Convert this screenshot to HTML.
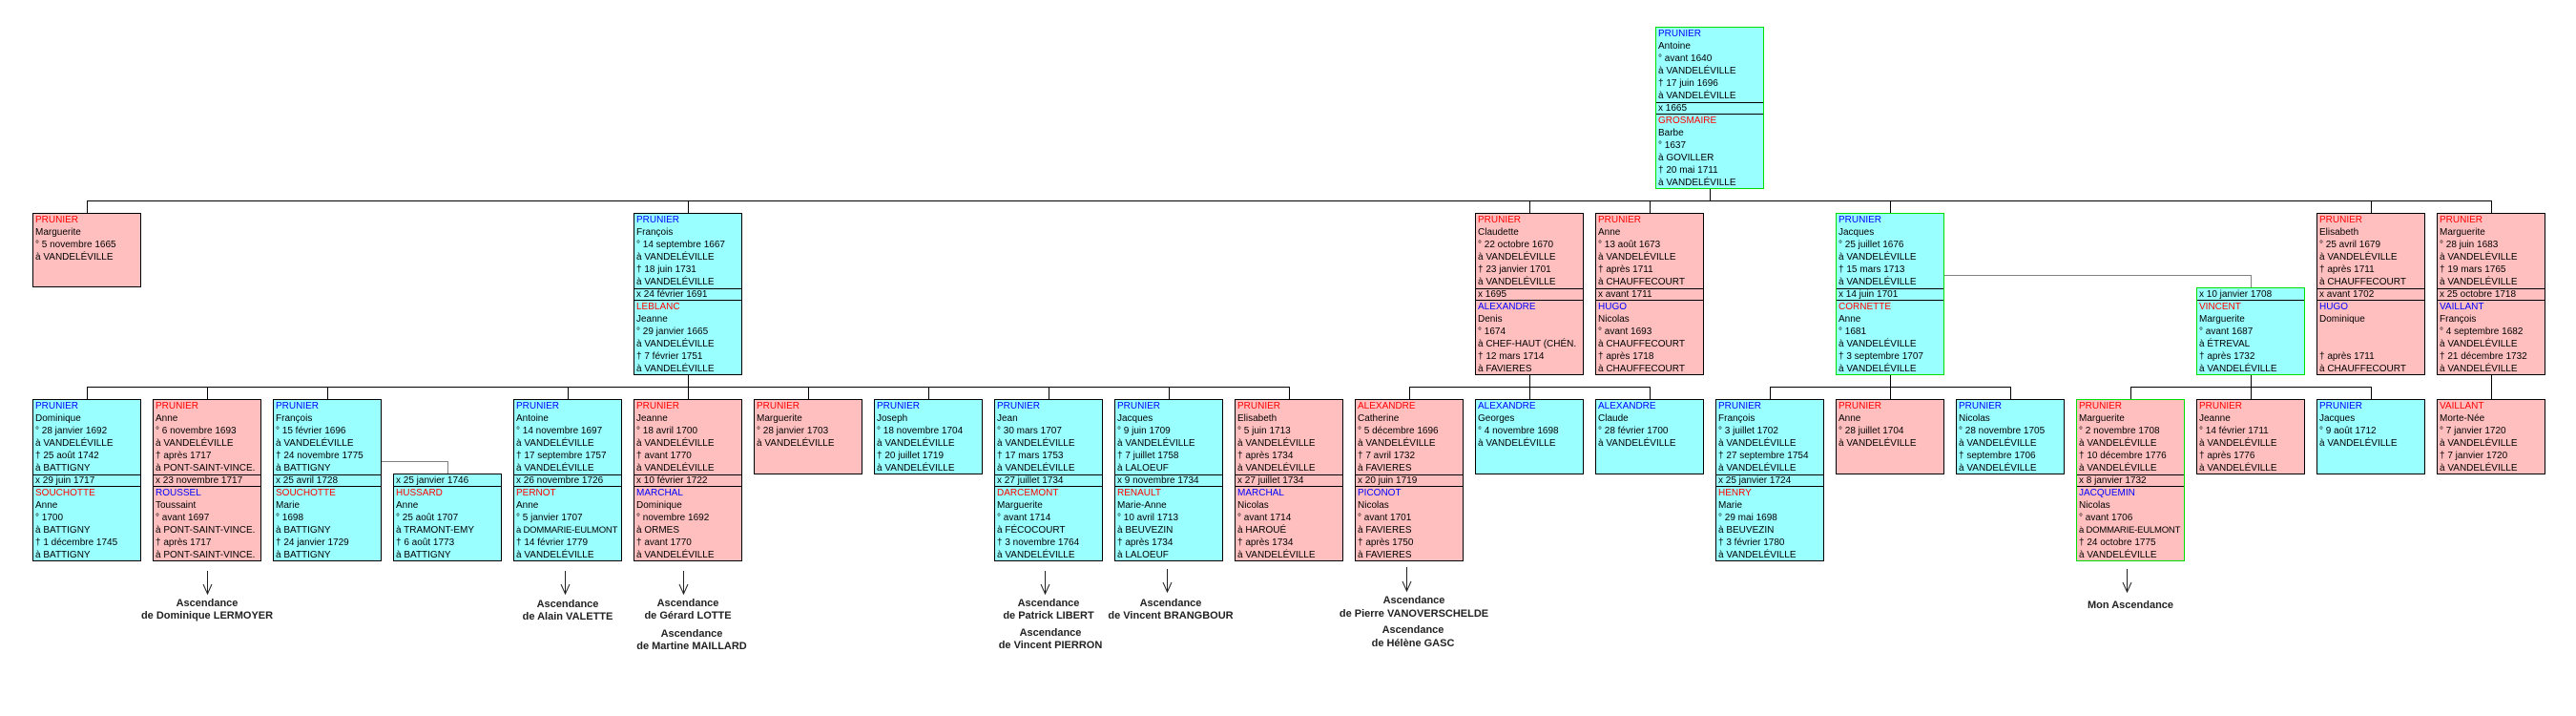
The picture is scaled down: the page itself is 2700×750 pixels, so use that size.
<!DOCTYPE html>
<html><head><meta charset="utf-8">
<style>
html,body{margin:0;padding:0;background:#fff;width:2700px;height:750px;overflow:hidden;position:relative}
.b{position:absolute;width:114px;box-sizing:border-box;border:1px solid #000;font:10px "Liberation Sans",sans-serif;line-height:13px;overflow:hidden;white-space:nowrap;color:#000}
.b div{height:13px;padding-left:2px}
.b div.m{height:11px;line-height:12px;border-top:1px solid #000;border-bottom:1px solid #000}
.b div.s{font-size:9.5px;letter-spacing:-0.2px}
.c{background:#99ffff}.p{background:#ffbfbf}.g{border-color:#00dd00}
.r{color:#f00}.u{color:#00f}
.l{position:absolute;width:300px;text-align:center;font:bold 11px "Liberation Sans",sans-serif;line-height:13px;color:#222}
svg{position:absolute;left:0;top:0}
</style></head><body>
<svg width="2700" height="750" shape-rendering="crispEdges">
<g stroke="#000" stroke-width="1" fill="none">
<path d="M1792.5 197V210.5M91 210.5H2612M91.5 210V223M721.5 210V223M1603.5 210V223M1729.5 210V223M1981.5 210V223M2485.5 210V223M2611.5 210V223"/>
<path d="M721.5 392V405.5M91 405.5H1352M91.5 405V418M217.5 405V418M343.5 405V418M595.5 405V418M721.5 405V418M847.5 405V418M973.5 405V418M1099.5 405V418M1225.5 405V418M1351.5 405V418"/>
<path d="M1603.5 392V405.5M1477 405.5H1730M1477.5 405V418M1603.5 405V418M1729.5 405V418"/>
<path d="M1981.5 392V405.5M1855 405.5H2108M1855.5 405V418M1981.5 405V418M2107.5 405V418"/>
<path d="M2359.5 392V405.5M2233 405.5H2486M2233.5 405V418M2359.5 405V418M2485.5 405V418"/>
<path d="M2611.5 392V418"/>
</g>
<g stroke="#808080" fill="none">
<path d="M2038 288.5H2359.5V301M399 483.5H469.5V496"/>
</g>
<g stroke="#222" fill="none" shape-rendering="auto">
<path d="M217.5 598V622M213 612L217.5 622L222 612"/>
<path d="M592.5 598V622M588 612L592.5 622L597 612"/>
<path d="M716.5 598V622M712 612L716.5 622L721 612"/>
<path d="M1095.5 598V622M1091 612L1095.5 622L1100 612"/>
<path d="M1223.5 596V620M1219 610L1223.5 620L1228 610"/>
<path d="M1474.5 594V619M1470 609L1474.5 619L1479 609"/>
<path d="M2229.5 596V620M2225 610L2229.5 620L2234 610"/>
</g>
</svg>

<!-- Root -->
<div class="b c g" style="left:1735px;top:28px;height:170px"><div class="u">PRUNIER</div><div>Antoine</div><div>° avant 1640</div><div>à VANDELÉVILLE</div><div>† 17 juin 1696</div><div>à VANDELÉVILLE</div><div class="m">x 1665</div><div class="r">GROSMAIRE</div><div>Barbe</div><div>° 1637</div><div>à GOVILLER</div><div>† 20 mai 1711</div><div>à VANDELÉVILLE</div></div>

<!-- Row 2 -->
<div class="b p" style="left:34px;top:223px;height:78px"><div class="r">PRUNIER</div><div>Marguerite</div><div>° 5 novembre 1665</div><div>à VANDELÉVILLE</div></div>
<div class="b c" style="left:664px;top:223px;height:170px"><div class="u">PRUNIER</div><div>François</div><div>° 14 septembre 1667</div><div>à VANDELÉVILLE</div><div>† 18 juin 1731</div><div>à VANDELÉVILLE</div><div class="m">x 24 février 1691</div><div class="r">LEBLANC</div><div>Jeanne</div><div>° 29 janvier 1665</div><div>à VANDELÉVILLE</div><div>† 7 février 1751</div><div>à VANDELÉVILLE</div></div>
<div class="b p" style="left:1546px;top:223px;height:170px"><div class="r">PRUNIER</div><div>Claudette</div><div>° 22 octobre 1670</div><div>à VANDELÉVILLE</div><div>† 23 janvier 1701</div><div>à VANDELÉVILLE</div><div class="m">x 1695</div><div class="u">ALEXANDRE</div><div>Denis</div><div>° 1674</div><div>à CHEF-HAUT (CHÉN.</div><div>† 12 mars 1714</div><div>à FAVIERES</div></div>
<div class="b p" style="left:1672px;top:223px;height:170px"><div class="r">PRUNIER</div><div>Anne</div><div>° 13 août 1673</div><div>à VANDELÉVILLE</div><div>† après 1711</div><div>à CHAUFFECOURT</div><div class="m">x avant 1711</div><div class="u">HUGO</div><div>Nicolas</div><div>° avant 1693</div><div>à CHAUFFECOURT</div><div>† après 1718</div><div>à CHAUFFECOURT</div></div>
<div class="b c g" style="left:1924px;top:223px;height:170px"><div class="u">PRUNIER</div><div>Jacques</div><div>° 25 juillet 1676</div><div>à VANDELÉVILLE</div><div>† 15 mars 1713</div><div>à VANDELÉVILLE</div><div class="m">x 14 juin 1701</div><div class="r">CORNETTE</div><div>Anne</div><div>° 1681</div><div>à VANDELÉVILLE</div><div>† 3 septembre 1707</div><div>à VANDELÉVILLE</div></div>
<div class="b c g" style="left:2302px;top:301px;height:92px"><div style="height:12px;border-bottom:1px solid #000">x 10 janvier 1708</div><div class="r">VINCENT</div><div>Marguerite</div><div>° avant 1687</div><div>à ÉTREVAL</div><div>† après 1732</div><div>à VANDELÉVILLE</div></div>
<div class="b p" style="left:2428px;top:223px;height:170px"><div class="r">PRUNIER</div><div>Elisabeth</div><div>° 25 avril 1679</div><div>à VANDELÉVILLE</div><div>† après 1711</div><div>à CHAUFFECOURT</div><div class="m">x avant 1702</div><div class="u">HUGO</div><div>Dominique</div><div></div><div></div><div>† après 1711</div><div>à CHAUFFECOURT</div></div>
<div class="b p" style="left:2554px;top:223px;height:170px"><div class="r">PRUNIER</div><div>Marguerite</div><div>° 28 juin 1683</div><div>à VANDELÉVILLE</div><div>† 19 mars 1765</div><div>à VANDELÉVILLE</div><div class="m">x 25 octobre 1718</div><div class="u">VAILLANT</div><div>François</div><div>° 4 septembre 1682</div><div>à VANDELÉVILLE</div><div>† 21 décembre 1732</div><div>à VANDELÉVILLE</div></div>

<!-- Row 3 -->
<div class="b c" style="left:34px;top:418px;height:170px"><div class="u">PRUNIER</div><div>Dominique</div><div>° 28 janvier 1692</div><div>à VANDELÉVILLE</div><div>† 25 août 1742</div><div>à BATTIGNY</div><div class="m">x 29 juin 1717</div><div class="r">SOUCHOTTE</div><div>Anne</div><div>° 1700</div><div>à BATTIGNY</div><div>† 1 décembre 1745</div><div>à BATTIGNY</div></div>
<div class="b p" style="left:160px;top:418px;height:170px"><div class="r">PRUNIER</div><div>Anne</div><div>° 6 novembre 1693</div><div>à VANDELÉVILLE</div><div>† après 1717</div><div>à PONT-SAINT-VINCE.</div><div class="m">x 23 novembre 1717</div><div class="u">ROUSSEL</div><div>Toussaint</div><div>° avant 1697</div><div>à PONT-SAINT-VINCE.</div><div>† après 1717</div><div>à PONT-SAINT-VINCE.</div></div>
<div class="b c" style="left:286px;top:418px;height:170px"><div class="u">PRUNIER</div><div>François</div><div>° 15 février 1696</div><div>à VANDELÉVILLE</div><div>† 24 novembre 1775</div><div>à BATTIGNY</div><div class="m">x 25 avril 1728</div><div class="r">SOUCHOTTE</div><div>Marie</div><div>° 1698</div><div>à BATTIGNY</div><div>† 24 janvier 1729</div><div>à BATTIGNY</div></div>
<div class="b c" style="left:412px;top:496px;height:92px"><div style="height:12px;border-bottom:1px solid #000">x 25 janvier 1746</div><div class="r">HUSSARD</div><div>Anne</div><div>° 25 août 1707</div><div>à TRAMONT-EMY</div><div>† 6 août 1773</div><div>à BATTIGNY</div></div>
<div class="b c" style="left:538px;top:418px;height:170px"><div class="u">PRUNIER</div><div>Antoine</div><div>° 14 novembre 1697</div><div>à VANDELÉVILLE</div><div>† 17 septembre 1757</div><div>à VANDELÉVILLE</div><div class="m">x 26 novembre 1726</div><div class="r">PERNOT</div><div>Anne</div><div>° 5 janvier 1707</div><div class="s">à DOMMARIE-EULMONT</div><div>† 14 février 1779</div><div>à VANDELÉVILLE</div></div>
<div class="b p" style="left:664px;top:418px;height:170px"><div class="r">PRUNIER</div><div>Jeanne</div><div>° 18 avril 1700</div><div>à VANDELÉVILLE</div><div>† avant 1770</div><div>à VANDELÉVILLE</div><div class="m">x 10 février 1722</div><div class="u">MARCHAL</div><div>Dominique</div><div>° novembre 1692</div><div>à ORMES</div><div>† avant 1770</div><div>à VANDELÉVILLE</div></div>
<div class="b p" style="left:790px;top:418px;height:79px"><div class="r">PRUNIER</div><div>Marguerite</div><div>° 28 janvier 1703</div><div>à VANDELÉVILLE</div></div>
<div class="b c" style="left:916px;top:418px;height:79px"><div class="u">PRUNIER</div><div>Joseph</div><div>° 18 novembre 1704</div><div>à VANDELÉVILLE</div><div>† 20 juillet 1719</div><div>à VANDELÉVILLE</div></div>
<div class="b c" style="left:1042px;top:418px;height:170px"><div class="u">PRUNIER</div><div>Jean</div><div>° 30 mars 1707</div><div>à VANDELÉVILLE</div><div>† 17 mars 1753</div><div>à VANDELÉVILLE</div><div class="m">x 27 juillet 1734</div><div class="r">DARCEMONT</div><div>Marguerite</div><div>° avant 1714</div><div>à FÉCOCOURT</div><div>† 3 novembre 1764</div><div>à VANDELÉVILLE</div></div>
<div class="b c" style="left:1168px;top:418px;height:170px"><div class="u">PRUNIER</div><div>Jacques</div><div>° 9 juin 1709</div><div>à VANDELÉVILLE</div><div>† 7 juillet 1758</div><div>à LALOEUF</div><div class="m">x 9 novembre 1734</div><div class="r">RENAULT</div><div>Marie-Anne</div><div>° 10 avril 1713</div><div>à BEUVEZIN</div><div>† après 1734</div><div>à LALOEUF</div></div>
<div class="b p" style="left:1294px;top:418px;height:170px"><div class="r">PRUNIER</div><div>Elisabeth</div><div>° 5 juin 1713</div><div>à VANDELÉVILLE</div><div>† après 1734</div><div>à VANDELÉVILLE</div><div class="m">x 27 juillet 1734</div><div class="u">MARCHAL</div><div>Nicolas</div><div>° avant 1714</div><div>à HAROUÉ</div><div>† après 1734</div><div>à VANDELÉVILLE</div></div>
<div class="b p" style="left:1420px;top:418px;height:170px"><div class="r">ALEXANDRE</div><div>Catherine</div><div>° 5 décembre 1696</div><div>à VANDELÉVILLE</div><div>† 7 avril 1732</div><div>à FAVIERES</div><div class="m">x 20 juin 1719</div><div class="u">PICONOT</div><div>Nicolas</div><div>° avant 1701</div><div>à FAVIERES</div><div>† après 1750</div><div>à FAVIERES</div></div>
<div class="b c" style="left:1546px;top:418px;height:79px"><div class="u">ALEXANDRE</div><div>Georges</div><div>° 4 novembre 1698</div><div>à VANDELÉVILLE</div></div>
<div class="b c" style="left:1672px;top:418px;height:79px"><div class="u">ALEXANDRE</div><div>Claude</div><div>° 28 février 1700</div><div>à VANDELÉVILLE</div></div>
<div class="b c" style="left:1798px;top:418px;height:170px"><div class="u">PRUNIER</div><div>François</div><div>° 3 juillet 1702</div><div>à VANDELÉVILLE</div><div>† 27 septembre 1754</div><div>à VANDELÉVILLE</div><div class="m">x 25 janvier 1724</div><div class="r">HENRY</div><div>Marie</div><div>° 29 mai 1698</div><div>à BEUVEZIN</div><div>† 3 février 1780</div><div>à VANDELÉVILLE</div></div>
<div class="b p" style="left:1924px;top:418px;height:79px"><div class="r">PRUNIER</div><div>Anne</div><div>° 28 juillet 1704</div><div>à VANDELÉVILLE</div></div>
<div class="b c" style="left:2050px;top:418px;height:79px"><div class="u">PRUNIER</div><div>Nicolas</div><div>° 28 novembre 1705</div><div>à VANDELÉVILLE</div><div>† septembre 1706</div><div>à VANDELÉVILLE</div></div>
<div class="b p g" style="left:2176px;top:418px;height:170px"><div class="r">PRUNIER</div><div>Marguerite</div><div>° 2 novembre 1708</div><div>à VANDELÉVILLE</div><div>† 10 décembre 1776</div><div>à VANDELÉVILLE</div><div class="m">x 8 janvier 1732</div><div class="u">JACQUEMIN</div><div>Nicolas</div><div>° avant 1706</div><div class="s">à DOMMARIE-EULMONT</div><div>† 24 octobre 1775</div><div>à VANDELÉVILLE</div></div>
<div class="b p" style="left:2302px;top:418px;height:79px"><div class="r">PRUNIER</div><div>Jeanne</div><div>° 14 février 1711</div><div>à VANDELÉVILLE</div><div>† après 1776</div><div>à VANDELÉVILLE</div></div>
<div class="b c" style="left:2428px;top:418px;height:79px"><div class="u">PRUNIER</div><div>Jacques</div><div>° 9 août 1712</div><div>à VANDELÉVILLE</div></div>
<div class="b p" style="left:2554px;top:418px;height:79px"><div class="r">VAILLANT</div><div>Morte-Née</div><div>° 7 janvier 1720</div><div>à VANDELÉVILLE</div><div>† 7 janvier 1720</div><div>à VANDELÉVILLE</div></div>

<!-- Labels -->
<div class="l" style="left:67px;top:626px">Ascendance<br>de Dominique LERMOYER</div>
<div class="l" style="left:445px;top:627px">Ascendance<br>de Alain VALETTE</div>
<div class="l" style="left:571px;top:626px">Ascendance<br>de Gérard LOTTE</div>
<div class="l" style="left:575px;top:658px">Ascendance<br>de Martine MAILLARD</div>
<div class="l" style="left:949px;top:626px">Ascendance<br>de Patrick LIBERT</div>
<div class="l" style="left:951px;top:657px">Ascendance<br>de Vincent PIERRON</div>
<div class="l" style="left:1077px;top:626px">Ascendance<br>de Vincent BRANGBOUR</div>
<div class="l" style="left:1332px;top:622px;line-height:14px">Ascendance<br>de Pierre VANOVERSCHELDE</div>
<div class="l" style="left:1331px;top:653px;line-height:14px">Ascendance<br>de Hélène GASC</div>
<div class="l" style="left:2083px;top:628px">Mon Ascendance</div>
</body></html>
